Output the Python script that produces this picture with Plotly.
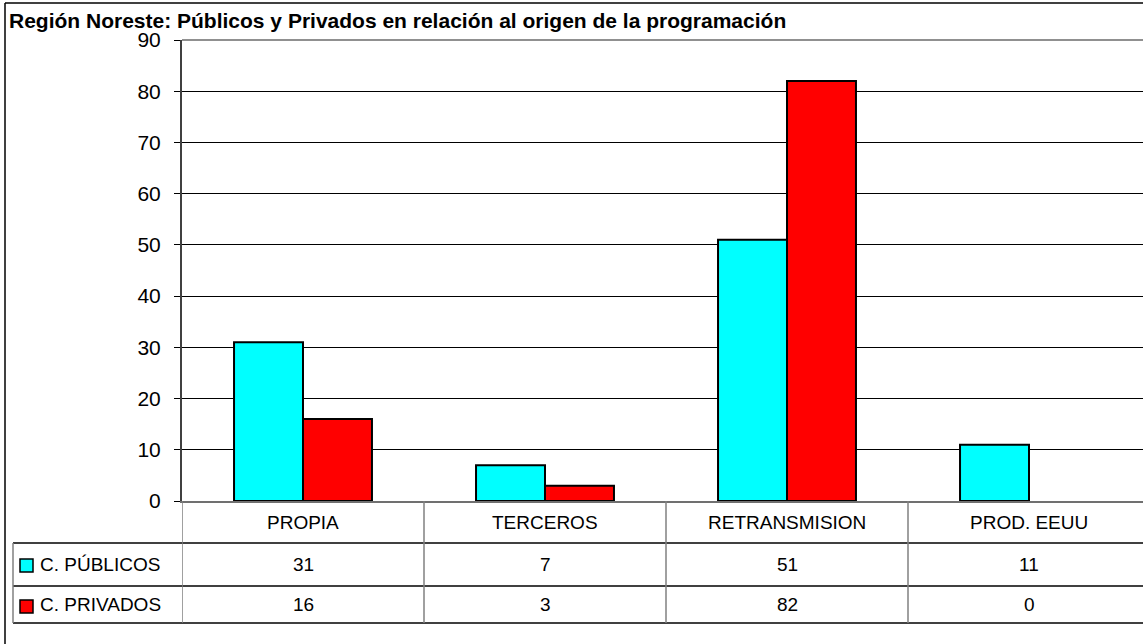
import plotly.graph_objects as go

# ---------------- data ----------------
categories = ["PROPIA", "TERCEROS", "RETRANSMISION", "PROD. EEUU"]
publicos = [31, 7, 51, 11]
privados = [16, 3, 82, 0]
series_names = ["C. PÚBLICOS", "C. PRIVADOS"]
series_values = [publicos, privados]
series_colors = ["#00FFFF", "#FF0000"]
y_ticks = [0, 10, 20, 30, 40, 50, 60, 70, 80, 90]
title_text = "Región Noreste: Públicos y Privados en relación al origen de la programación"

# ---------------- geometry (pixels) ----------------
W, H = 1143, 644
L, R, T, B = 182, 1143, 40, 501
CAT_W = 242.0
FONT = "Liberation Sans, Arial, sans-serif"


def px(x):
    return (x - L) / (R - L)


def py(y):
    return (B - y) / (B - T)


x_max = -0.5 + (R - L) / CAT_W

fig = go.Figure()
for name, vals, col in zip(series_names, series_values, series_colors):
    fig.add_trace(go.Bar(
        x=list(range(len(categories))), y=vals, name=name,
        marker=dict(color=col,
                    line=dict(color="#000000", width=[2 if v else 0 for v in vals])),
        showlegend=False, hoverinfo="skip",
    ))

shapes = []
# table row lines
row_y = [501, 543, 586, 623]
for yy in row_y[1:]:
    shapes.append(dict(type="line", xref="paper", yref="paper", x0=px(13), x1=1.0,
                       y0=py(yy), y1=py(yy), line=dict(color="#000000", width=1.5)))
# table column dividers
for i in range(len(categories)):
    shapes.append(dict(type="line", xref="x", yref="paper", x0=i - 0.5, x1=i - 0.5,
                       y0=py(501), y1=py(623), line=dict(color="#808080", width=1.5)))
shapes.append(dict(type="line", xref="paper", yref="paper", x0=px(13), x1=px(13),
                   y0=py(543), y1=py(623), line=dict(color="#808080", width=1.5)))
# legend keys
key_tops = [559, 600]
for col, kt in zip(series_colors, key_tops):
    shapes.append(dict(type="rect", xref="paper", yref="paper", x0=px(20), x1=px(33),
                       y0=py(kt + 13), y1=py(kt), fillcolor=col,
                       line=dict(color="#000000", width=1.5)))
# top plot border (gray)
shapes.append(dict(type="line", xref="paper", yref="paper", x0=0, x1=1, y0=1, y1=1,
                   line=dict(color="#909090", width=2)))
# outer chart border
shapes.append(dict(type="line", xref="paper", yref="paper", x0=px(5), x1=px(5),
                   y0=py(3), y1=py(650), line=dict(color="#000000", width=1.5)))
shapes.append(dict(type="line", xref="paper", yref="paper", x0=px(5), x1=px(1150),
                   y0=py(3), y1=py(3), line=dict(color="#000000", width=1.5)))

annotations = []
annotations.append(dict(text="<b>" + title_text + "</b>", xref="paper", yref="paper",
                        x=px(7), y=py(20), xanchor="left", yanchor="middle",
                        showarrow=False, font=dict(family=FONT, size=21, color="#000000")))
row_centers = [522, 564.5, 604.5]
for i, c in enumerate(categories):
    annotations.append(dict(text=c, xref="x", yref="paper", x=i, y=py(row_centers[0]),
                            xanchor="center", yanchor="middle", showarrow=False,
                            font=dict(family=FONT, size=19, color="#000000")))
for r, (name, vals) in enumerate(zip(series_names, series_values)):
    yc = py(row_centers[r + 1])
    annotations.append(dict(text=name, xref="paper", yref="paper", x=px(38), y=yc,
                            xanchor="left", yanchor="middle", showarrow=False,
                            font=dict(family=FONT, size=19, color="#000000")))
    for i, v in enumerate(vals):
        annotations.append(dict(text=str(v), xref="x", yref="paper", x=i, y=yc,
                                xanchor="center", yanchor="middle", showarrow=False,
                                font=dict(family=FONT, size=19, color="#000000")))

fig.update_layout(
    width=W, height=H,
    margin=dict(l=L, r=W - R, t=T, b=H - B, pad=0),
    paper_bgcolor="#FFFFFF", plot_bgcolor="#FFFFFF",
    barmode="group", bargap=0.43, bargroupgap=0,
    font=dict(family=FONT, color="#000000"),
    shapes=shapes, annotations=annotations,
)
fig.update_xaxes(range=[-0.5, x_max], showticklabels=False, showgrid=False,
                 zeroline=False, showline=True, linecolor="#707070", linewidth=2,
                 ticks="", fixedrange=True)
fig.update_yaxes(range=[0, 90], tickvals=y_ticks, ticktext=[str(t) for t in y_ticks],
                 showgrid=True, gridcolor="#000000", gridwidth=1, zeroline=False,
                 showline=True, linecolor="#404040", linewidth=2,
                 ticks="outside", ticklen=6, tickcolor="#000000", tickwidth=1,
                 ticklabelstandoff=9,
                 tickfont=dict(family=FONT, size=21, color="#000000"), fixedrange=True)

fig.write_html("out.html",
               post_script="document.body.style.margin='0';document.body.style.overflow='hidden';",
               config={"displayModeBar": False})
